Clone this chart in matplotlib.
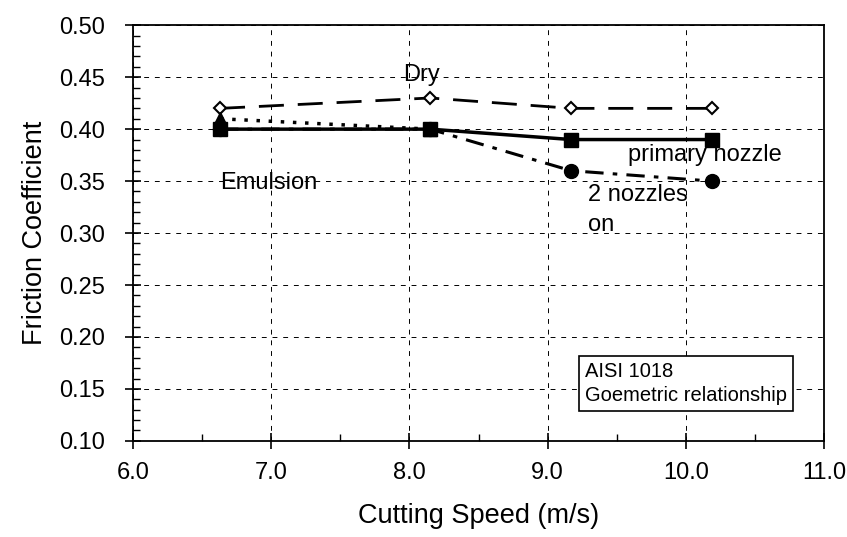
import matplotlib
matplotlib.use("Agg")
import matplotlib.pyplot as plt
from matplotlib.ticker import MultipleLocator, FormatStrFormatter

plt.rcParams['font.family'] = ['Liberation Sans', 'DejaVu Sans']

speed = [6.63, 8.15, 9.17, 10.19]
dry = [0.42, 0.43, 0.42, 0.42]
primary = [0.40, 0.40, 0.39, 0.39]
two_nozzles = [0.40, 0.40, 0.36, 0.35]
emul_speed = [6.63, 8.15]
emulsion = [0.41, 0.40]

fig = plt.figure(figsize=(8.47, 5.37), dpi=100)
ax = fig.add_axes([0.157, 0.179, 0.816, 0.774])

ax.plot(speed, dry, color='black', linestyle=(0, (9, 5)), linewidth=2,
        marker='D', markersize=6.5, markerfacecolor='white', markeredgewidth=1.5)
ax.plot(emul_speed, emulsion, color='black', linestyle=(0, (1, 2.5)), linewidth=2.5,
        marker='^', markersize=10)
ax.plot(speed, two_nozzles, color='black', linestyle=(0, (6, 3, 1.5, 3)), linewidth=2.2,
        marker='o', markersize=10)
ax.plot(speed, primary, color='black', linestyle='-', linewidth=2.5,
        marker='s', markersize=9.5)

ax.set_xlim(6.0, 11.0)
ax.set_ylim(0.10, 0.50)
ax.xaxis.set_major_locator(MultipleLocator(1.0))
ax.xaxis.set_minor_locator(MultipleLocator(0.5))
ax.yaxis.set_major_locator(MultipleLocator(0.05))
ax.yaxis.set_minor_locator(MultipleLocator(0.01))
ax.xaxis.set_major_formatter(FormatStrFormatter('%.1f'))
ax.yaxis.set_major_formatter(FormatStrFormatter('%.2f'))
ax.tick_params(which='major', direction='inout', length=12, width=1.2, labelsize=17)
ax.tick_params(axis='x', which='major', pad=9)
ax.tick_params(axis='y', which='major', pad=14)
ax.tick_params(which='minor', direction='in', length=5, width=1)
ax.grid(True, which='major', color='black', linestyle=(0, (5, 6)), linewidth=0.7)
for s in ax.spines.values():
    s.set_linewidth(1.3)

ax.set_xlabel('Cutting Speed (m/s)', fontsize=19.5, labelpad=14)
ax.set_ylabel('Friction Coefficient', fontsize=19.5, labelpad=8)

ax.text(8.09, 0.452, 'Dry', fontsize=17, ha='center', va='center')
ax.text(6.63, 0.348, 'Emulsion', fontsize=17, ha='left', va='center')
ax.text(9.58, 0.375, 'primary nozzle', fontsize=17, ha='left', va='center')
ax.text(9.29, 0.337, '2 nozzles', fontsize=17, ha='left', va='center')
ax.text(9.29, 0.308, 'on', fontsize=17, ha='left', va='center')
ax.text(9.27, 0.155, 'AISI 1018\nGoemetric relationship', fontsize=14.5, ha='left', va='center',
        linespacing=1.35,
        bbox=dict(boxstyle='square,pad=0.3', facecolor='white', edgecolor='black', linewidth=1.2))

fig.savefig('out.png', dpi=100)
